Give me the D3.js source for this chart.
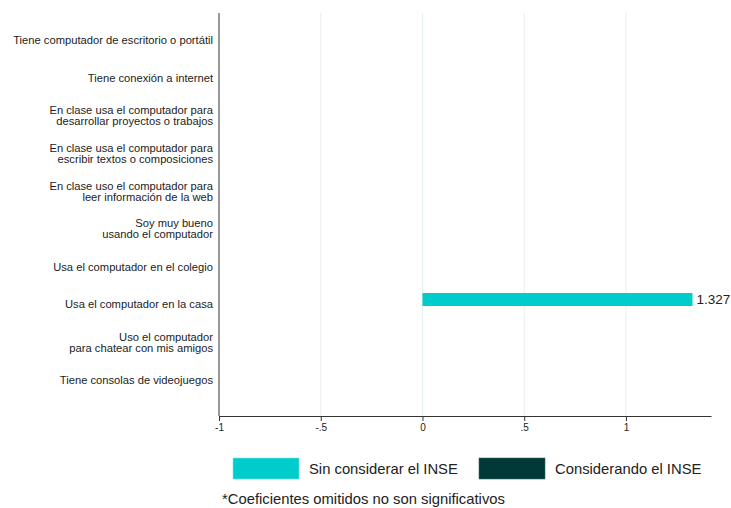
<!DOCTYPE html>
<html>
<head>
<meta charset="utf-8">
<script src="https://cdn.jsdelivr.net/npm/d3@7"></script>
<style>
  body { margin: 0; background: #fff; font-family: "Liberation Sans", Arial, sans-serif; }
  .axis path, .axis line { stroke: #333; }
  .axis text { font-size: 10px; fill: #222; font-family: "Liberation Sans", Arial, sans-serif; }
</style>
</head>
<body>
<div id="chart"></div>
<script>
// data
var categories = [
  "Tiene computador de escritorio o portátil",
  "Tiene conexión a internet",
  "En clase usa el computador para\ndesarrollar proyectos o trabajos",
  "En clase usa el computador para\nescribir textos o composiciones",
  "En clase uso el computador para\nleer información de la web",
  "Soy muy bueno\nusando el computador",
  "Usa el computador en el colegio",
  "Usa el computador en la casa",
  "Uso el computador\npara chatear con mis amigos",
  "Tiene consolas de videojuegos"
];
// null = coeficiente omitido (no significativo)
var sinINSE = [null, null, null, null, null, null, null, 1.327, null, null];
var conINSE = [null, null, null, null, null, null, null, null, null, null];
var seriesNames = ["Sin considerar el INSE", "Considerando el INSE"];
var seriesColors = ["#00cccc", "#013838"];
var xTicks = [-1, -0.5, 0, 0.5, 1];
var xTickLabels = ["-1", "-.5", "0", ".5", "1"];
var footnote = "*Coeficientes omitidos no son significativos";

var W = 731, H = 508;
var margin = {top: 13, right: 20, bottom: 92, left: 219};
var width = W - margin.left - margin.right,
    height = H - margin.top - margin.bottom;

var svg = d3.select("#chart").append("svg")
  .attr("width", W).attr("height", H);

var g = svg.append("g")
  .attr("transform", "translate(" + margin.left + "," + margin.top + ")");

var x = d3.scaleLinear().domain([-1, 1.418]).range([0, width]);
var y = d3.scaleBand().domain(categories).range([12, height - 13]).padding(0);

// light gridlines
g.selectAll("line.grid")
  .data(xTicks.filter(function(d) { return d > -1; }))
  .enter().append("line")
  .attr("class", "grid")
  .attr("x1", function(d) { return x(d); })
  .attr("x2", function(d) { return x(d); })
  .attr("y1", 0).attr("y2", height)
  .attr("stroke", "#e6eff1").attr("stroke-width", 1);

// bars
var rows = [];
categories.forEach(function(c, i) {
  if (sinINSE[i] !== null) rows.push({cat: c, v: sinINSE[i], s: 0});
  if (conINSE[i] !== null) rows.push({cat: c, v: conINSE[i], s: 1});
});
var barH = 13;

g.selectAll("rect.bar")
  .data(rows)
  .enter().append("rect")
  .attr("class", "bar")
  .attr("x", function(d) { return x(Math.min(0, d.v)); })
  .attr("width", function(d) { return Math.abs(x(d.v) - x(0)); })
  .attr("y", function(d) { return y(d.cat) + y.bandwidth() / 2 - barH / 2 - 9 + d.s * barH; })
  .attr("height", barH)
  .attr("fill", function(d) { return seriesColors[d.s]; });

g.selectAll("text.val")
  .data(rows)
  .enter().append("text")
  .attr("class", "val")
  .attr("x", function(d) { return x(d.v) + 4; })
  .attr("y", function(d) { return y(d.cat) + y.bandwidth() / 2 - 9 + d.s * barH; })
  .attr("dy", "0.35em")
  .style("font-size", "13.5px")
  .attr("fill", "#222")
  .text(function(d) { return d3.format(".3f")(d.v); });

// category labels
var lab = g.selectAll("text.cat")
  .data(categories)
  .enter().append("text")
  .attr("class", "cat")
  .attr("text-anchor", "end")
  .style("font-size", "11.2px")
  .attr("fill", "#222")
  .attr("transform", function(d) {
    return "translate(-6," + (y(d) + y.bandwidth() / 2 - 4) + ")";
  });
lab.each(function(d) {
  var lines = d.split("\n");
  var t = d3.select(this);
  lines.forEach(function(l, i) {
    t.append("tspan")
      .attr("x", 0)
      .attr("y", (i - (lines.length - 1) / 2) * 11)
      .attr("dy", "0.35em")
      .text(l);
  });
});

// axes
g.append("line")
  .attr("x1", 0).attr("x2", 0).attr("y1", 0).attr("y2", height)
  .attr("stroke", "#333");

g.append("g")
  .attr("class", "axis")
  .attr("transform", "translate(0," + height + ")")
  .call(d3.axisBottom(x).tickValues(xTicks)
    .tickFormat(function(d, i) { return xTickLabels[i]; })
    .tickSize(5).tickSizeOuter(0));

// legend
var leg = svg.append("g").attr("transform", "translate(233,458)");
var legX = [0, 246];
seriesNames.forEach(function(n, i) {
  leg.append("rect")
    .attr("x", legX[i]).attr("y", 0)
    .attr("width", 66).attr("height", 21)
    .attr("fill", seriesColors[i])
    .attr("stroke", i === 0 ? "#7fe5e5" : "#3a6a6a").attr("stroke-width", 0.6);
  leg.append("text")
    .attr("x", legX[i] + 76).attr("y", 11)
    .attr("dy", "0.35em")
    .style("font-size", "14.8px")
    .attr("fill", "#222")
    .text(n);
});

svg.append("text")
  .attr("x", 222).attr("y", 499)
  .attr("dy", "0.35em")
  .style("font-size", "14.8px")
  .attr("fill", "#222")
  .text(footnote);
</script>
</body>
</html>
